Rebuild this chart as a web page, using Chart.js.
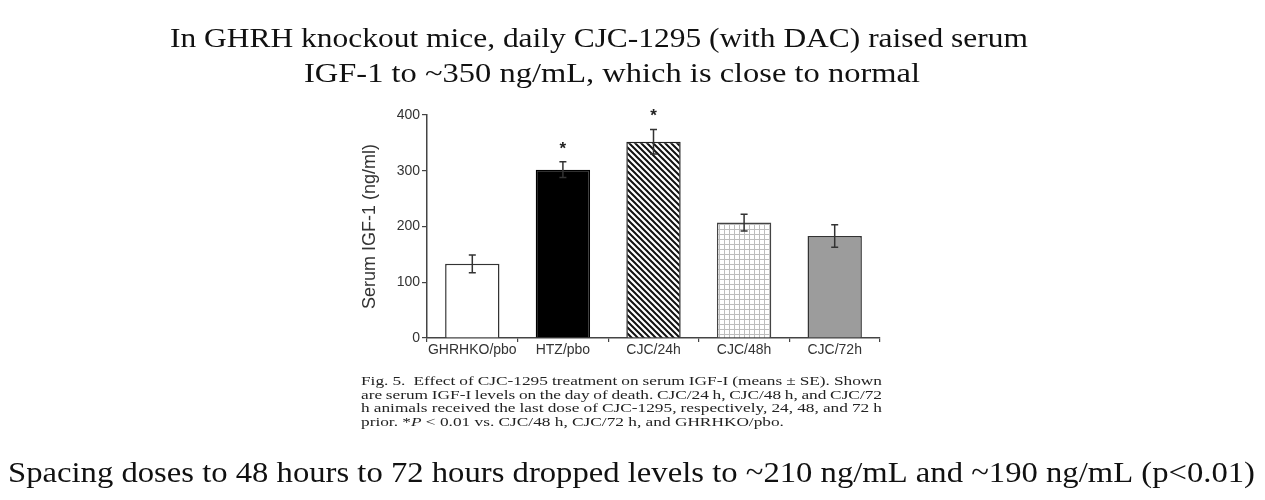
<!DOCTYPE html>
<html><head><meta charset="utf-8">
<script src="https://cdn.jsdelivr.net/npm/chart.js@4/dist/chart.umd.min.js"></script>
<style>html,body{margin:0;padding:0;background:#fff;overflow:hidden}</style>
</head><body>
<canvas id="c" width="1265" height="500" style="width:1265px;height:500px;display:block"></canvas>
<script>
// ---- data ----
const categories = ['GHRHKO/pbo', 'HTZ/pbo', 'CJC/24h', 'CJC/48h', 'CJC/72h'];
const means = [133, 302, 352, 207, 183];
const errors = [16, 14, 22, 15, 20];
const significant = [false, true, true, false, false];
const yMin = 0, yMax = 400, yStep = 100;
const yAxisTitle = 'Serum IGF-1 (ng/ml)';
const titleLines = [
  'In GHRH knockout mice, daily CJC-1295 (with DAC) raised serum',
  'IGF-1 to ~350 ng/mL, which is close to normal'
];
const captionLines = [
  'Fig. 5.  Effect of CJC-1295 treatment on serum IGF-I (means \u00b1 SE). Shown',
  'are serum IGF-I levels on the day of death. CJC/24 h, CJC/48 h, and CJC/72',
  'h animals received the last dose of CJC-1295, respectively, 24, 48, and 72 h'
];
const captionLast = ['prior. *', 'P', ' < 0.01 vs. CJC/48 h, CJC/72 h, and GHRHKO/pbo.'];
const footerText = 'Spacing doses to 48 hours to 72 hours dropped levels to ~210 ng/mL and ~190 ng/mL (p<0.01)';

// ---- styles ----
const canvas = document.getElementById('c');
const ctx = canvas.getContext('2d');
const SERIF = '"Liberation Serif", "Times New Roman", Times, serif';
const SANS = '"Liberation Sans", Arial, Helvetica, sans-serif';

function hatchPattern() {
  const c = document.createElement('canvas'); c.width = 6; c.height = 6;
  const x = c.getContext('2d');
  x.fillStyle = '#fff'; x.fillRect(0, 0, 6, 6);
  x.strokeStyle = '#111'; x.lineWidth = 2;
  x.beginPath();
  x.moveTo(-1, -1); x.lineTo(7, 7);
  x.moveTo(-1, 5); x.lineTo(1, 7);
  x.moveTo(5, -1); x.lineTo(7, 1);
  x.stroke();
  return ctx.createPattern(c, 'repeat');
}
function gridPattern() {
  const c = document.createElement('canvas'); c.width = 5; c.height = 5;
  const x = c.getContext('2d');
  x.fillStyle = '#fff'; x.fillRect(0, 0, 5, 5);
  x.fillStyle = '#bdbdbd';
  x.fillRect(4, 0, 1, 5);
  x.fillRect(0, 4, 5, 1);
  return ctx.createPattern(c, 'repeat');
}
const fills = ['#ffffff', '#000000', hatchPattern(), gridPattern(), '#9c9c9c'];

function drawFit(c, text, x, baseline, width, font) {
  c.save();
  c.font = font;
  c.textBaseline = 'alphabetic';
  c.textAlign = 'left';
  const w = c.measureText(text).width;
  c.translate(x, baseline);
  c.scale(width / w, 1);
  c.fillText(text, 0, 0);
  c.restore();
}
// caption line, justified, with horizontal stretch sx
function drawJustified(c, text, x, baseline, width, sx) {
  c.save();
  c.translate(x, baseline);
  c.scale(sx, 1);
  const words = text.split(' ');
  let total = 0;
  const ws = words.map(w => { const m = w ? c.measureText(w).width : 0; total += m; return m; });
  const gap = (width / sx - total) / (words.length - 1);
  let cx = 0;
  words.forEach((w, i) => { if (w) c.fillText(w, cx, 0); cx += ws[i] + gap; });
  c.restore();
}

const overlay = {
  id: 'overlay',
  afterDatasetsDraw(chart) {
    const c = chart.ctx;
    const y = chart.scales.y;
    const meta = chart.getDatasetMeta(0);
    c.save();
    c.strokeStyle = '#333'; c.lineWidth = 1.5;
    meta.data.forEach((bar, i) => {
      const top = y.getPixelForValue(means[i] + errors[i]);
      const bot = y.getPixelForValue(means[i] - errors[i]);
      c.beginPath();
      c.moveTo(bar.x, top); c.lineTo(bar.x, bot);
      c.moveTo(bar.x - 3.5, top); c.lineTo(bar.x + 3.5, top);
      c.moveTo(bar.x - 3.5, bot); c.lineTo(bar.x + 3.5, bot);
      c.stroke();
      if (significant[i]) {
        c.fillStyle = '#222';
        c.font = 'bold 17px ' + SANS;
        c.textAlign = 'center'; c.textBaseline = 'middle';
        c.fillText('*', bar.x, top - 13);
      }
    });
    c.restore();
  },
  afterDraw(chart) {
    const c = chart.ctx;
    c.save();
    c.fillStyle = '#111';
    drawFit(c, titleLines[0], 170, 47, 858, '28px ' + SERIF);
    drawFit(c, titleLines[1], 304, 82, 616, '28px ' + SERIF);
    drawFit(c, footerText, 8, 482, 1247, '30px ' + SERIF);
    c.fillStyle = '#222';
    c.font = '13px ' + SERIF;
    c.textBaseline = 'alphabetic'; c.textAlign = 'left';
    const lastW = c.measureText(captionLast.join('')).width;
    const sx = 422 / lastW;
    const base = [385, 398.5, 412];
    captionLines.forEach((l, i) => drawJustified(c, l, 361, base[i], 521, sx));
    c.save();
    c.translate(361, 425.5); c.scale(sx, 1);
    let cx = 0;
    c.fillText(captionLast[0], cx, 0); cx += c.measureText(captionLast[0]).width;
    c.font = 'italic 13px ' + SERIF;
    c.fillText(captionLast[1], cx, 0); cx += c.measureText(captionLast[1]).width;
    c.font = '13px ' + SERIF;
    c.fillText(captionLast[2], cx, 0);
    c.restore();
    c.restore();
  }
};

function build() {
  new Chart(ctx, {
    type: 'bar',
    data: {
      labels: categories,
      datasets: [{
        data: means,
        backgroundColor: fills,
        borderColor: ['#333', '#000', '#222', '#444', '#333'],
        borderWidth: 1.5,
        categoryPercentage: 1,
        barPercentage: 0.6
      }]
    },
    options: {
      responsive: false,
      devicePixelRatio: 1,
      animation: false,
      events: [],
      layout: { padding: { left: 347, right: 385, top: 115, bottom: 122 } },
      plugins: { legend: { display: false }, tooltip: { enabled: false }, title: { display: false } },
      scales: {
        x: {
          offset: true,
          afterFit(s) { s.height = 40; },
          grid: { offset: true, drawOnChartArea: false, drawTicks: true, tickLength: 4, color: '#444', lineWidth: 1.2 },
          border: { display: true, color: '#444', width: 1.5 },
          ticks: { padding: 0, minRotation: 0, maxRotation: 0, autoSkip: false, color: '#333',
                   font: { family: SANS, size: 14 } }
        },
        y: {
          min: yMin, max: yMax,
          afterFit(s) { s.width = 80; },
          grid: { drawOnChartArea: false, drawTicks: true, tickLength: 5, color: '#444', lineWidth: 1.2 },
          border: { display: true, color: '#444', width: 1.5 },
          ticks: { stepSize: yStep, padding: 2, color: '#333', font: { family: SANS, size: 14 } },
          title: { display: true, text: yAxisTitle, color: '#333', padding: { top: 12, bottom: 0 },
                   font: { family: SANS, size: 18 } }
        }
      }
    },
    plugins: [overlay]
  });
}
Promise.all([
  document.fonts.load('28px "Liberation Serif"'),
  document.fonts.load('italic 13px "Liberation Serif"'),
  document.fonts.load('14px "Liberation Sans"')
]).then(build, build);
</script>
</body></html>
